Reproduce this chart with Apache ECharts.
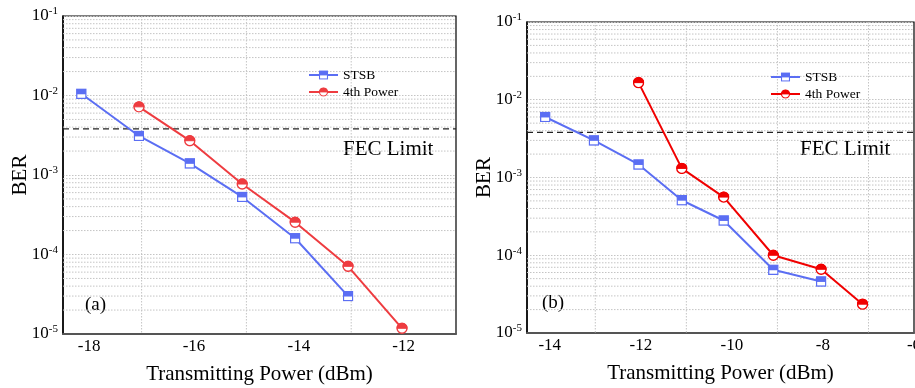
<!DOCTYPE html>
<html>
<head>
<meta charset="utf-8">
<script src="https://cdn.jsdelivr.net/npm/echarts@6/dist/echarts.min.js"></script>
<style>
    html, body { margin: 0; padding: 0; background: #fff; }
    #chartA { position: absolute; left: 0; top: 0; width: 458px; height: 388px; }
    #chartB { position: absolute; left: 458px; top: 0; width: 457px; height: 388px; }
</style>
</head>
<body>
<div id="chartA"></div>
<div id="chartB"></div>
<script>
// panel (a)
const stsbPowerA = [-18.15, -17.05, -16.08, -15.08, -14.07, -13.06];
const stsbBerA = [1.05e-2, 3.1e-3, 1.4e-3, 5.3e-4, 1.6e-4, 3.0e-5];
const fourthPowerA = [-17.05, -16.08, -15.08, -14.07, -13.06, -12.03];
const fourthBerA = [7.2e-3, 2.7e-3, 7.7e-4, 2.55e-4, 7.1e-5, 1.18e-5];
const xLabelsA = [-18, -16, -14, -12];
const xGridA = [-17, -15, -13];

// panel (b)
const stsbPowerB = [-14.1, -13.03, -12.05, -11.1, -10.18, -9.09, -8.04];
const stsbBerB = [6.0e-3, 3.0e-3, 1.47e-3, 5.1e-4, 2.8e-4, 6.5e-5, 4.6e-5];
const fourthPowerB = [-12.05, -11.1, -10.18, -9.09, -8.04, -7.13];
const fourthBerB = [1.66e-2, 1.31e-3, 5.6e-4, 1.0e-4, 6.6e-5, 2.35e-5];
const xLabelsB = [-14, -12, -10, -8, -6];
const xGridB = [-13, -11, -9, -7];

const fecLimit = 3.8e-3;
const decades = [1e-5, 1e-4, 1e-3, 1e-2];
const minorSteps = [2, 3, 4, 5, 6, 7, 8, 9];

const FONT = "'Liberation Serif', 'Times New Roman', serif";
const BLUE = '#5b6ef3';
const GRID_STYLE = {stroke: '#c4c4c4', lineWidth: 1, lineDash: [1.5, 1.5]};

function pairs(xs, ys) {
    return xs.map((x, i) => [x, ys[i]]);
}

// half filled markers: top half coloured, bottom half white
function squareIcon(c) {
    const svg = "<svg xmlns='http://www.w3.org/2000/svg' width='12' height='12'>" +
        "<rect x='1' y='1' width='10' height='10' fill='white' stroke='" + c + "' stroke-width='1.4'/>" +
        "<rect x='1' y='1' width='10' height='5.5' fill='" + c + "'/></svg>";
    return 'image://data:image/svg+xml;charset=utf-8,' + encodeURIComponent(svg);
}

function circleIcon(c) {
    const svg = "<svg xmlns='http://www.w3.org/2000/svg' width='12' height='12'>" +
        "<circle cx='6' cy='6' r='5' fill='white' stroke='" + c + "' stroke-width='1.4'/>" +
        "<path d='M1 6 A5 5 0 0 1 11 6 Z' fill='" + c + "' stroke='" + c + "' stroke-width='1'/></svg>";
    return 'image://data:image/svg+xml;charset=utf-8,' + encodeURIComponent(svg);
}

// full-width horizontal or full-height vertical rule at a data value
function ruleSeries(name, data, vertical, style, z) {
    return {
        name: name, type: 'custom', z: z, silent: true,
        data: data,
        renderItem: (params, api) => {
            const cs = params.coordSys;
            const pt = api.coord([api.value(0), api.value(1)]);
            const shape = vertical
                ? {x1: pt[0], y1: cs.y, x2: pt[0], y2: cs.y + cs.height}
                : {x1: cs.x, y1: pt[1], x2: cs.x + cs.width, y2: pt[1]};
            return {type: 'line', shape: shape, style: style};
        }
    };
}

function buildOption(p) {
    const hLines = [];
    decades.forEach(d => minorSteps.forEach(m => hLines.push([p.xMin, d * m])));
    const vLines = p.xGrid.map(v => [v, 1e-3]);
    return {
        animation: false,
        textStyle: {fontFamily: FONT},
        grid: {
            left: p.left, top: p.top, width: p.width, height: p.height,
            containLabel: false, outerBoundsMode: 'none',
            show: true, borderColor: '#000', borderWidth: 1.2, backgroundColor: 'transparent'
        },
        legend: {
            orient: 'vertical', left: p.legendLeft, top: p.legendTop,
            itemWidth: 29, itemHeight: 12, itemGap: 3,
            textStyle: {fontFamily: FONT, fontSize: 13.5, color: '#000'},
            data: ['STSB', '4th Power']
        },
        xAxis: {
            type: 'value', min: p.xMin, max: p.xMax,
            name: 'Transmitting Power (dBm)', nameLocation: 'middle', nameGap: 30,
            nameMoveOverlap: false,
            nameTextStyle: {fontFamily: FONT, fontSize: 21, color: '#000'},
            axisLine: {lineStyle: {color: '#555', width: 2}},
            axisTick: {show: false},
            splitLine: {show: false},
            axisLabel: {
                customValues: p.xLabels, margin: 4,
                fontFamily: FONT, fontSize: 17, color: '#000'
            }
        },
        yAxis: {
            type: 'log', logBase: 10, min: 1e-5, max: 1e-1,
            name: 'BER', nameLocation: 'middle', nameGap: 32,
            nameMoveOverlap: false,
            nameTextStyle: {fontFamily: FONT, fontSize: 21, color: '#000'},
            axisLine: {show: true, lineStyle: {color: '#000', width: 1.5}},
            axisTick: {show: false},
            splitLine: {show: true, lineStyle: {color: '#c4c4c4', width: 1, type: [1.5, 1.5]}},
            axisLabel: {
                margin: 5, color: '#000',
                formatter: v => '{b|10}{s|' + Math.round(Math.log10(v)) + '}',
                rich: {
                    b: {fontFamily: FONT, fontSize: 17, color: '#000'},
                    s: {fontFamily: FONT, fontSize: 11, color: '#000', padding: [0, 0, 9, 0]}
                }
            }
        },
        graphic: [
            {type: 'text', left: p.fecX, top: p.fecY,
             style: {text: 'FEC Limit', fontFamily: FONT, fontSize: 21, fill: '#000'}},
            {type: 'text', left: p.tagX, top: p.tagY,
             style: {text: p.tag, fontFamily: FONT, fontSize: 19, fill: '#000'}}
        ],
        series: [
            ruleSeries('minor', hLines, false, GRID_STYLE, 1),
            ruleSeries('vgrid', vLines, true, GRID_STYLE, 1),
            ruleSeries('fec', [[p.xMin, fecLimit]], false,
                {stroke: '#222', lineWidth: 1.2, lineDash: [6, 4]}, 2),
            {
                name: 'STSB', type: 'line', z: 3,
                data: pairs(p.stsbX, p.stsbY),
                symbol: squareIcon(BLUE), symbolSize: 11,
                lineStyle: {color: BLUE, width: 2},
                itemStyle: {color: BLUE}
            },
            {
                name: '4th Power', type: 'line', z: 4,
                data: pairs(p.fourthX, p.fourthY),
                symbol: circleIcon(p.red), symbolSize: 12,
                lineStyle: {color: p.red, width: 2},
                itemStyle: {color: p.red}
            }
        ]
    };
}

const chartA = echarts.init(document.getElementById('chartA'));
chartA.setOption(buildOption({
    left: 63, top: 16, width: 393, height: 318,
    xMin: -18.5, xMax: -11, xLabels: xLabelsA, xGrid: xGridA,
    stsbX: stsbPowerA, stsbY: stsbBerA, fourthX: fourthPowerA, fourthY: fourthBerA,
    red: '#ee3c40', legendLeft: 303, legendTop: 63,
    fecX: 343, fecY: 139, tag: '(a)', tagX: 85, tagY: 296
}));

const chartB = echarts.init(document.getElementById('chartB'));
chartB.setOption(buildOption({
    left: 69, top: 22, width: 387, height: 311,
    xMin: -14.5, xMax: -6, xLabels: xLabelsB, xGrid: xGridB,
    stsbX: stsbPowerB, stsbY: stsbBerB, fourthX: fourthPowerB, fourthY: fourthBerB,
    red: '#f00000', legendLeft: 307, legendTop: 65,
    fecX: 342, fecY: 139, tag: '(b)', tagX: 84, tagY: 294
}));
</script>
</body>
</html>
